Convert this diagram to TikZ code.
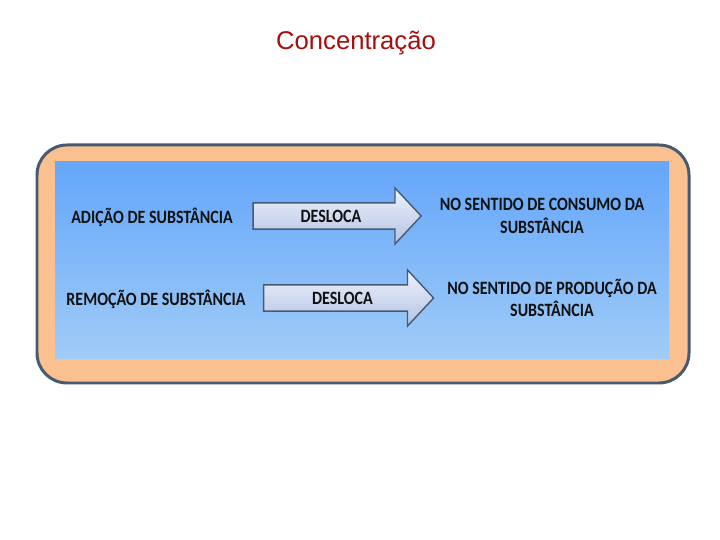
\documentclass[tikz,border=0pt]{standalone}
\usepackage{fontspec}
\setmainfont[FakeStretch=0.85]{Carlito}
\newfontfamily\titlefont{Liberation Sans}
\usepackage{tikz}
\usetikzlibrary{shapes.arrows,positioning}
\definecolor{TitleRed}{HTML}{A50E0E}
\definecolor{FramePeach}{HTML}{FAC08F}
\definecolor{FrameSlate}{HTML}{475A72}
\definecolor{PanelTop}{HTML}{64A6FA}
\definecolor{PanelBottom}{HTML}{A0CCF7}
\definecolor{ArrowTop}{HTML}{EEF2FC}
\definecolor{ArrowBottom}{HTML}{B3C3E3}
\definecolor{InkDark}{HTML}{111111}

\begin{document}
\begin{tikzpicture}[every node/.style={font=\fontsize{10.7}{13}\selectfont\bfseries,color=InkDark},
  shiftarrow/.style={single arrow,draw=FrameSlate,line width=0.8pt,
    top color=ArrowTop,bottom color=ArrowBottom,
    single arrow head extend=0.29cm,single arrow tip angle=94,
    minimum width=1.12cm,inner xsep=2pt},
  sidetext/.style={align=center}]
  \useasboundingbox (0,0) rectangle (14.4,10.8);
  % Title
  \node[font=\titlefont\fontsize{14.6}{16}\selectfont,color=TitleRed] (title) at (7.12,9.94) {Concentração};
  % Frame and panel
  \draw[fill=FramePeach,draw=FrameSlate,line width=1.7pt,rounded corners=0.6cm]
    (0.74,3.14) rectangle (13.78,7.9);
  \shade[top color=PanelTop,bottom color=PanelBottom]
    (1.1,3.62) rectangle (13.38,7.56);
  % Row 1: addition
  \node[sidetext] (add) at (3.04,6.46) {ADIÇÃO DE SUBSTÂNCIA};
  \node[shiftarrow,minimum height=3.36cm] (arrowA) at (6.62,6.48) {DESLOCA};
  \node[sidetext] (consumo) at (10.84,6.48) {NO SENTIDO DE CONSUMO DA\\SUBSTÂNCIA};
  % Row 2: removal
  \node[sidetext] (rem) at (3.12,4.82) {REMOÇÃO DE SUBSTÂNCIA};
  \node[shiftarrow,minimum height=3.4cm] (arrowB) at (6.85,4.84) {DESLOCA};
  \node[sidetext] (producao) at (11.04,4.84) {NO SENTIDO DE PRODUÇÃO DA\\SUBSTÂNCIA};
\end{tikzpicture}
\end{document}
